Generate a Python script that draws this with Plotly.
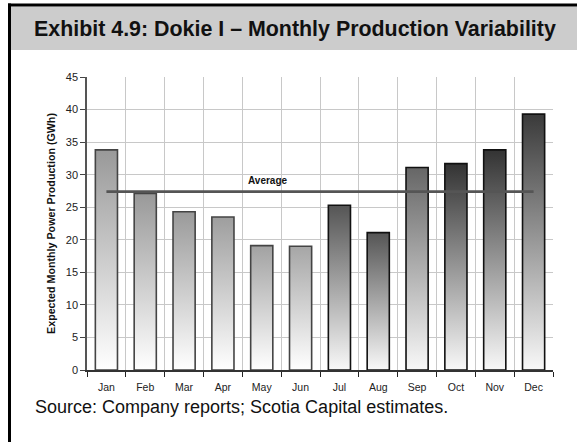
import plotly.graph_objects as go

# ---- data ----
months = ["Jan", "Feb", "Mar", "Apr", "May", "Jun",
          "Jul", "Aug", "Sep", "Oct", "Nov", "Dec"]
production_gwh = [33.8, 27.1, 24.3, 23.5, 19.1, 19.0,
                  25.3, 21.1, 31.1, 31.7, 33.8, 39.3]
average_gwh = 27.4
y_ticks = [0, 5, 10, 15, 20, 25, 30, 35, 40, 45]

# ---- styles ----
top_colors = ["#999999", "#999999", "#9a9a9a", "#9e9e9e", "#a2a2a2", "#a6a6a6",
              "#555555", "#555555", "#666666", "#333333", "#333333", "#3a3a3a"]
bottom_colors = ["#ffffff"] * 6 + ["#f8f8f8"] * 6
outline_colors = ["#444444"] * 6 + ["#111111"] * 6
BAR_W = 0.57
FONT = "Liberation Sans, Arial, sans-serif"

W, H = 577, 442
ML, MR, MT, MB = 87, 24, 77, 72
PW, PH = W - ML - MR, H - MT - MB


def px(x):
    return (x - ML) / PW


def py(y):
    return (H - MB - y) / PH


fig = go.Figure()

# category bars (transparent; define the category axis)
fig.add_trace(go.Bar(
    x=months, y=production_gwh, width=BAR_W,
    marker=dict(color="rgba(0,0,0,0)", line=dict(width=0)),
    showlegend=False, hoverinfo="x+y"))

# gradient-filled bar bodies drawn on an overlaid numeric axis
half = BAR_W / 2
for i, v in enumerate(production_gwh):
    fig.add_trace(go.Scatter(
        x=[i - half, i - half, i + half, i + half, i - half],
        y=[0, v, v, 0, 0],
        xaxis="x2", yaxis="y", mode="lines", fill="toself",
        fillgradient=dict(type="vertical",
                          colorscale=[[0, bottom_colors[i]], [1, top_colors[i]]]),
        line=dict(color=outline_colors[i], width=1.6),
        showlegend=False, hoverinfo="skip"))

# average line
fig.add_trace(go.Scatter(
    x=[0, len(months) - 1], y=[average_gwh, average_gwh],
    xaxis="x2", yaxis="y", mode="lines",
    line=dict(color="#555555", width=2.6),
    showlegend=False, hoverinfo="skip"))

fig.add_annotation(
    x=4.15, y=average_gwh, xref="x2", yref="y", text="Average",
    showarrow=False, yshift=11,
    font=dict(family=FONT, size=10, color="#111111", weight="bold"))

# frame / header decoration
shapes = [
    dict(type="rect", xref="paper", yref="paper",
         x0=px(10), x1=px(W + 2), y0=py(50), y1=py(6.5),
         fillcolor="#cccccc", line=dict(width=0)),
    dict(type="line", xref="paper", yref="paper",
         x0=px(8), x1=px(W + 2), y0=py(5), y1=py(5),
         line=dict(color="#000000", width=3)),
    dict(type="line", xref="paper", yref="paper",
         x0=px(9.5), x1=px(9.5), y0=py(3.5), y1=py(H + 5),
         line=dict(color="#000000", width=3)),
]

fig.add_annotation(
    xref="paper", yref="paper", x=px(32), y=py(29),
    xanchor="left", yanchor="middle", showarrow=False,
    text="Exhibit 4.9: Dokie I – Monthly Production Variability",
    font=dict(family=FONT, size=21.4, color="#111111", weight="bold"))

fig.add_annotation(
    xref="paper", yref="paper", x=px(33), y=py(407),
    xanchor="left", yanchor="middle", showarrow=False,
    text="Source: Company reports; Scotia Capital estimates.",
    font=dict(family=FONT, size=18, color="#111111"))

fig.update_layout(
    width=W, height=H,
    margin=dict(l=ML, r=MR, t=MT, b=MB, pad=0),
    paper_bgcolor="white", plot_bgcolor="white",
    shapes=shapes,
    bargap=1 - BAR_W,
    xaxis=dict(
        type="category", categoryorder="array", categoryarray=months,
        range=[-0.5, len(months) - 0.5],
        tickson="boundaries", ticks="outside", ticklen=5, tickwidth=1.3,
        tickcolor="#222222", ticklabelstandoff=7,
        showgrid=True, gridcolor="#c8c8c8", gridwidth=1,
        showline=True, linecolor="#333333", linewidth=1.5,
        tickfont=dict(family=FONT, size=10.5, color="#222222"),
        fixedrange=True),
    xaxis2=dict(
        overlaying="x", anchor="y", range=[-0.5, len(months) - 0.5],
        visible=False, fixedrange=True),
    yaxis=dict(
        range=[0, 45], tickvals=y_ticks,
        ticks="outside", ticklen=5, tickwidth=1.3, tickcolor="#444444",
        showgrid=True, gridcolor="#c8c8c8", gridwidth=1,
        showline=True, linecolor="#555555", linewidth=1.5,
        zeroline=False,
        tickfont=dict(family=FONT, size=11, color="#222222"),
        title=dict(text="Expected Monthly Power Production (GWh)",
                   standoff=8,
                   font=dict(family=FONT, size=10.7, color="#111111", weight="bold")),
        fixedrange=True),
)

fig.write_html("out.html",
               config={"displayModeBar": False},
               post_script="document.body.style.margin='0px';")
